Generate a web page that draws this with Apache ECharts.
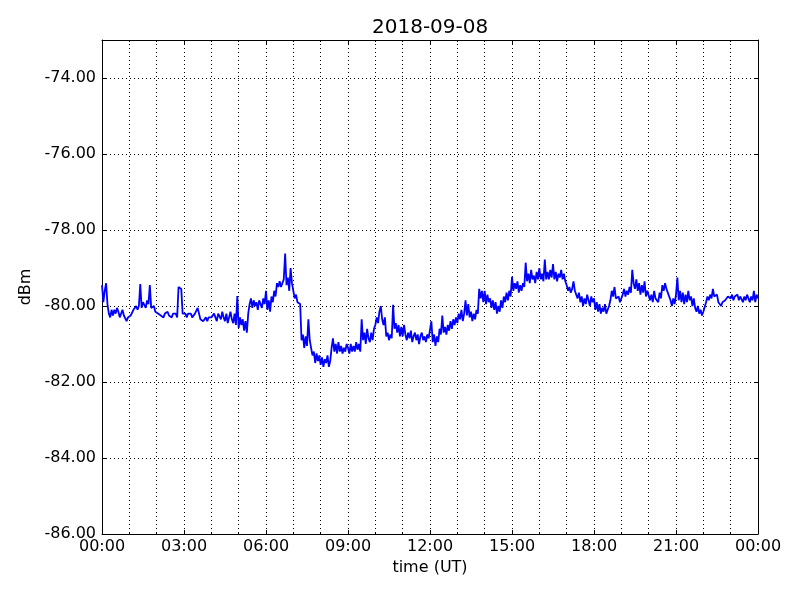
<!DOCTYPE html>
<html>
<head>
<meta charset="utf-8">
<script src="https://cdn.jsdelivr.net/npm/echarts@6/dist/echarts.min.js"></script>
<style>html,body{margin:0;padding:0;background:#fff}#c{width:800px;height:600px}</style>
</head>
<body>
<div id="c"></div>
<script>
// Sampling step of the series, in hours (3 minutes)
var stepHours = 0.05;
// Signal level in dBm, one row per hour (20 samples each), plus final point at 24:00
var h00 = [-79.45, -79.9, -79.6, -79.4, -79.95, -80.2, -80.3, -80.1, -80.25, -80.1, -80.2, -80.05, -80.15, -80.3, -80.2, -80.1, -80.25, -80.3, -80.4, -80.3];
var h01 = [-80.35, -80.25, -80.2, -80.1, -80.15, -80.0, -80.1, -80.0, -79.42, -80.05, -79.9, -79.95, -80.05, -79.85, -79.95, -79.45, -80.05, -80.1, -80.0, -80.15];
var h02 = [-80.1, -80.2, -80.15, -80.25, -80.2, -80.3, -80.2, -80.25, -80.15, -80.25, -80.2, -80.3, -80.2, -80.25, -80.2, -80.3, -79.5, -79.45, -79.55, -80.2];
var h03 = [-80.25, -80.2, -80.3, -80.2, -80.25, -80.2, -80.3, -80.25, -80.2, -80.15, -80.05, -80.2, -80.35, -80.3, -80.4, -80.35, -80.3, -80.4, -80.3, -80.35];
var h04 = [-80.3, -80.35, -80.2, -80.3, -80.4, -80.2, -80.25, -80.35, -80.15, -80.3, -80.4, -80.2, -80.45, -80.3, -80.15, -80.35, -80.45, -80.2, -80.5, -79.74];
var h05 = [-80.58, -80.3, -80.5, -80.35, -80.65, -80.4, -80.7, -80.2, -79.95, -79.8, -80.05, -79.85, -80.0, -79.9, -80.1, -79.85, -79.95, -80.05, -79.8, -79.95];
var h06 = [-79.6, -80.1, -79.85, -80.15, -79.75, -79.9, -79.6, -79.75, -79.4, -79.5, -79.35, -79.5, -79.4, -79.3, -78.62, -79.45, -79.25, -79.6, -79.0, -79.4];
var h07 = [-79.6, -79.8, -79.7, -79.9, -79.85, -79.95, -80.9, -80.75, -81.1, -80.8, -81.05, -80.35, -80.9, -81.1, -81.3, -81.2, -81.5, -81.25, -81.45, -81.3];
var h08 = [-81.55, -81.35, -81.6, -81.4, -81.5, -81.3, -81.6, -81.45, -81.1, -80.85, -81.2, -81.0, -81.25, -80.95, -81.2, -81.05, -81.25, -81.1, -81.2, -81.0];
var h09 = [-81.1, -81.25, -81.0, -81.2, -81.05, -81.2, -80.95, -81.15, -81.0, -81.2, -80.35, -80.9, -80.7, -81.0, -80.6, -80.85, -80.95, -80.7, -80.9, -80.6];
var h10 = [-80.5, -80.3, -80.45, -80.15, -80.0, -80.35, -80.5, -80.3, -80.8, -80.7, -80.9, -80.75, -80.85, -79.97, -80.6, -80.45, -80.7, -80.5, -80.8, -80.55];
var h11 = [-80.8, -80.5, -80.75, -80.9, -80.7, -80.85, -80.65, -80.95, -80.8, -80.7, -80.9, -80.75, -81.0, -80.8, -80.7, -80.9, -80.8, -80.95, -80.75, -80.85];
var h12 = [-80.9, -80.4, -80.95, -80.75, -81.05, -80.8, -80.95, -80.6, -80.75, -80.25, -80.7, -80.55, -80.75, -80.5, -80.65, -80.4, -80.6, -80.35, -80.5, -80.3];
var h13 = [-80.45, -80.2, -80.35, -80.1, -80.4, -80.2, -79.85, -80.25, -79.95, -80.3, -80.15, -80.4, -80.2, -80.35, -80.1, -80.2, -79.55, -79.8, -79.6, -79.9];
var h14 = [-79.6, -79.95, -79.7, -79.9, -79.8, -80.05, -79.85, -80.1, -79.9, -80.2, -80.0, -80.15, -79.85, -80.05, -79.75, -79.9, -79.65, -79.85, -79.6, -79.75];
var h15 = [-79.23, -79.6, -79.4, -79.55, -79.35, -79.65, -79.45, -79.6, -79.4, -79.5, -78.86, -79.35, -79.15, -79.4, -79.05, -79.3, -79.2, -79.4, -79.1, -79.3];
var h16 = [-79.0, -79.3, -79.15, -79.35, -78.78, -79.3, -79.1, -79.3, -79.05, -79.25, -78.9, -79.3, -79.1, -79.35, -79.15, -79.25, -79.05, -79.3, -79.15, -79.35];
var h17 = [-79.45, -79.6, -79.5, -79.65, -79.55, -79.35, -79.6, -79.7, -79.8, -79.65, -79.9, -79.75, -80.0, -79.8, -79.95, -79.7, -79.85, -80.0, -79.75, -79.9];
var h18 = [-79.8, -80.1, -79.9, -80.15, -79.95, -80.2, -80.05, -80.15, -79.95, -80.2, -80.1, -80.0, -79.85, -79.6, -79.75, -79.5, -79.8, -79.85, -79.75, -79.9];
var h19 = [-79.85, -79.7, -79.55, -79.75, -79.6, -79.7, -79.5, -79.65, -79.05, -79.4, -79.55, -79.3, -79.6, -79.4, -79.7, -79.45, -79.65, -79.35, -79.75, -79.6];
var h20 = [-79.65, -79.85, -79.7, -79.9, -79.6, -79.8, -79.75, -79.9, -79.65, -79.8, -79.45, -79.6, -79.4, -79.55, -79.5, -79.75, -79.85, -80.0, -79.8, -79.95];
var h21 = [-79.7, -79.25, -79.85, -79.6, -79.9, -79.65, -79.95, -79.7, -79.9, -79.6, -79.85, -79.75, -80.0, -79.8, -80.05, -80.15, -80.0, -80.2, -80.1, -80.25];
var h22 = [-80.15, -80.2, -79.9, -79.75, -79.85, -79.7, -79.8, -79.55, -79.75, -79.8, -79.7, -79.9, -79.85, -80.0, -79.9, -79.95, -79.85, -79.9, -79.75, -79.7];
var h23 = [-79.8, -79.7, -79.85, -79.75, -79.8, -79.7, -79.85, -79.75, -79.8, -79.9, -79.75, -79.85, -79.7, -79.8, -79.9, -79.75, -79.85, -79.6, -79.9, -79.7];
var h24 = [-79.8];

var xTickLabels = ['00:00', '03:00', '06:00', '09:00', '12:00', '15:00', '18:00', '21:00', '00:00'];
var titleText = '2018-09-08';
var xName = 'time (UT)';
var yName = 'dBm';

var levels = [].concat(h00, h01, h02, h03, h04, h05, h06, h07, h08, h09, h10, h11,
  h12, h13, h14, h15, h16, h17, h18, h19, h20, h21, h22, h23, h24);
var seriesData = levels.map(function (v, i) { return [Math.round(i * stepHours * 1000) / 1000, v]; });

var font = 'DejaVu Sans';
var gridLine = { show: true, lineStyle: { color: '#000', type: [1, 3], width: 1 } };
function xAxisBase(pos) {
  return {
    type: 'value', position: pos, min: 0, max: 24, interval: 3,
    axisLine: { show: true, onZero: false, lineStyle: { color: '#000', width: 1 } },
    axisTick: { show: true, inside: true, length: 4, lineStyle: { color: '#000' } },
    minorTick: { show: true, splitNumber: 3, length: 2, lineStyle: { color: '#000' } },
    splitLine: { show: false },
    minorSplitLine: { show: false }
  };
}
function yAxisBase(pos) {
  return {
    type: 'value', position: pos, min: -86, max: -73, interval: 2,
    axisLine: { show: true, onZero: false, lineStyle: { color: '#000', width: 1 } },
    axisTick: { show: true, inside: true, length: 4, lineStyle: { color: '#000' } },
    splitLine: { show: false }
  };
}
var xb = xAxisBase('bottom');
xb.splitLine = gridLine;
xb.minorSplitLine = gridLine;
xb.name = xName;
xb.nameLocation = 'middle';
xb.nameGap = 26;
xb.nameTextStyle = { fontFamily: font, fontSize: 16, color: '#000' };
xb.axisLabel = {
  show: true, margin: 5, fontFamily: font, fontSize: 16, color: '#000',
  formatter: function (v) { return xTickLabels[Math.round(v / 3)]; }
};
var xt = xAxisBase('top');
xt.axisLabel = { show: false };

var yl = yAxisBase('left');
yl.splitLine = gridLine;
yl.name = yName;
yl.nameLocation = 'middle';
yl.nameGap = 66;
yl.nameRotate = 90;
yl.nameTextStyle = { fontFamily: font, fontSize: 16, color: '#000' };
yl.axisLabel = {
  show: true, margin: 6, fontFamily: font, fontSize: 16, color: '#000', showMaxLabel: false,
  formatter: function (v) { return v.toFixed(2); }
};
var yr = yAxisBase('right');
yr.axisLabel = { show: false };

var chart = echarts.init(document.getElementById('c'), null, { renderer: 'canvas' });
chart.setOption({
  animation: false,
  backgroundColor: '#fff',
  title: {
    text: titleText, left: 367, top: 13,
    textStyle: { fontFamily: font, fontSize: 20, fontWeight: 'normal', color: '#000' }
  },
  grid: { left: 102, right: 42, top: 40, bottom: 66, containLabel: false },
  xAxis: [xb, xt],
  yAxis: [yl, yr],
  series: [{
    type: 'line', xAxisIndex: 0, yAxisIndex: 0, data: seriesData,
    showSymbol: false, symbol: 'none',
    lineStyle: { color: '#0000ff', width: 1.8 }
  }]
});
</script>
</body>
</html>
